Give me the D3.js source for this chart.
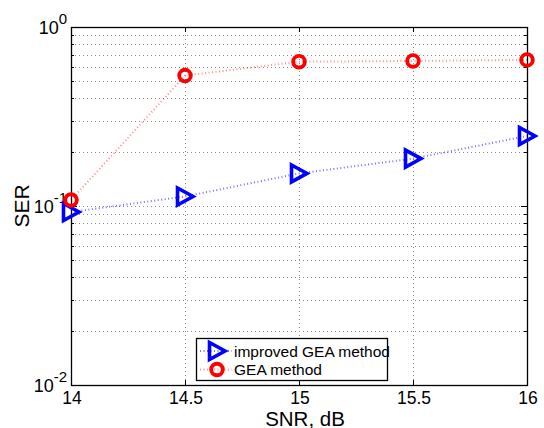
<!DOCTYPE html>
<html>
<head>
<meta charset="utf-8">
<script src="https://cdn.jsdelivr.net/npm/d3@7"></script>
<style>
  html, body { margin: 0; padding: 0; background: #fff; }
  svg { display: block; font-family: "Liberation Sans", Arial, Helvetica, sans-serif; }
</style>
</head>
<body>
<svg id="chart" width="544" height="428"></svg>
<script>
// SNR sweep (dB) and symbol error rates for the two detection methods
const snr = [14, 14.5, 15, 15.5, 16];
const serImproved = [0.0926, 0.113, 0.152, 0.184, 0.246];
const serGEA = [0.108, 0.535, 0.64, 0.646, 0.655];
const xTicks = [14, 14.5, 15, 15.5, 16];
const yDecades = [-2, -1, 0];
const seriesNames = ["improved GEA method", "GEA method"];

const svg = d3.select("#chart");
const plotL = 71, plotR = 527, plotT = 27, plotB = 385;

const x = d3.scaleLinear().domain([14, 16]).range([plotL, plotR]);
const y = d3.scaleLog().domain([1e-2, 1]).range([plotB, plotT]);

// minor log positions 2..9 in each decade
const minor = [];
for (let k = -2; k < 0; k++) for (let m = 2; m <= 9; m++) minor.push(m * Math.pow(10, k));

const grid = svg.append("g")
  .attr("stroke", "#8a8a8a").attr("stroke-width", 1)
  .attr("stroke-dasharray", "1,3").attr("fill", "none");

// horizontal grid (major + minor)
grid.selectAll("line.h")
  .data(minor.concat([0.1]))
  .join("line")
  .attr("x1", plotL).attr("x2", plotR)
  .attr("y1", d => Math.round(y(d)) + 0.5).attr("y2", d => Math.round(y(d)) + 0.5);

// vertical grid at inner x ticks
grid.selectAll("line.v")
  .data(xTicks.slice(1, -1))
  .join("line")
  .attr("y1", plotT).attr("y2", plotB)
  .attr("x1", d => Math.round(x(d)) + 0.5).attr("x2", d => Math.round(x(d)) + 0.5);

// inward ticks on all four sides
const ticks = svg.append("g").attr("stroke", "#000").attr("stroke-width", 1);
xTicks.slice(1, -1).forEach(v => {
  const px = Math.round(x(v)) + 0.5;
  ticks.append("line").attr("x1", px).attr("x2", px).attr("y1", plotB).attr("y2", plotB - 5);
  ticks.append("line").attr("x1", px).attr("x2", px).attr("y1", plotT).attr("y2", plotT + 5);
});
minor.forEach(v => {
  const py = Math.round(y(v)) + 0.5;
  ticks.append("line").attr("x1", plotL).attr("x2", plotL + 3).attr("y1", py).attr("y2", py);
  ticks.append("line").attr("x1", plotR).attr("x2", plotR - 3).attr("y1", py).attr("y2", py);
});
[0.1].forEach(v => {
  const py = Math.round(y(v)) + 0.5;
  ticks.append("line").attr("x1", plotL).attr("x2", plotL + 6).attr("y1", py).attr("y2", py);
  ticks.append("line").attr("x1", plotR).attr("x2", plotR - 6).attr("y1", py).attr("y2", py);
});

// axes box
svg.append("rect")
  .attr("x", plotL + 0.5).attr("y", plotT + 0.5)
  .attr("width", plotR - plotL).attr("height", plotB - plotT)
  .attr("fill", "none").attr("stroke", "#000").attr("stroke-width", 1.3);

// x tick labels
svg.append("g").selectAll("text")
  .data(xTicks)
  .join("text")
  .attr("x", d => x(d) + 1).attr("y", 403.5)
  .attr("text-anchor", "middle").attr("font-size", 17.5).attr("fill", "#000")
  .text(d => d);

// y tick labels as 10^k
const yl = svg.append("g").attr("fill", "#000");
yDecades.forEach(k => {
  const py = y(Math.pow(10, k)) + 7;
  const t = yl.append("text").attr("x", 67).attr("y", py).attr("text-anchor", "end").attr("font-size", 18);
  t.append("tspan").text("10");
  t.append("tspan").attr("dy", -10).attr("font-size", 15).text(k === 0 ? "0" : "-" + Math.abs(k));
});

// axis titles
svg.append("text")
  .attr("x", 305).attr("y", 425.5)
  .attr("text-anchor", "middle").attr("font-size", 20.5).attr("fill", "#000")
  .text("SNR, dB");
svg.append("text")
  .attr("transform", `translate(28.5,${(plotT + plotB) / 2}) rotate(-90)`)
  .attr("text-anchor", "middle").attr("font-size", 21).attr("fill", "#000")
  .text("SER");

// marker shapes
const triPath = "M-7.5,-8.5L-7.5,8.5L8,0Z";
function drawTri(g, cx, cy) {
  g.append("path").attr("d", triPath)
    .attr("transform", `translate(${cx},${cy})`)
    .attr("fill", "none").attr("stroke", "#0000ff").attr("stroke-width", 3.6)
    .attr("stroke-linejoin", "miter");
}
function drawCirc(g, cx, cy) {
  g.append("circle").attr("cx", cx).attr("cy", cy).attr("r", 5.8)
    .attr("fill", "none").attr("stroke", "#ff0000").attr("stroke-width", 3.9);
}

const line = d3.line().x(d => x(d[0])).y(d => y(d[1]));
const series = [
  { vals: serImproved, color: "#0000ff", opacity: 0.55, marker: drawTri },
  { vals: serGEA, color: "#ff0000", opacity: 0.45, marker: drawCirc }
];

series.forEach(s => {
  const pts = snr.map((v, i) => [v, s.vals[i]]);
  const g = svg.append("g");
  g.append("path").datum(pts).attr("d", line)
    .attr("fill", "none").attr("stroke", s.color).attr("stroke-opacity", s.opacity)
    .attr("stroke-width", 2).attr("stroke-dasharray", "1,2.5");
  pts.forEach(p => s.marker(g, x(p[0]), y(p[1])));
});

// legend
const lg = svg.append("g");
lg.append("rect").attr("x", 196.5).attr("y", 338.5).attr("width", 191).attr("height", 42)
  .attr("fill", "#fff").attr("stroke", "#000").attr("stroke-width", 1.3);
const rows = [351, 369.5];
series.forEach((s, i) => {
  const ry = rows[i];
  lg.append("line").attr("x1", 200).attr("x2", 232).attr("y1", ry).attr("y2", ry)
    .attr("stroke", s.color).attr("stroke-opacity", s.opacity)
    .attr("stroke-width", 2).attr("stroke-dasharray", "1,2.5");
  s.marker(lg, 217, ry);
  lg.append("text").attr("x", 234).attr("y", ry + 5.5)
    .attr("font-size", 15.5).attr("fill", "#000").text(seriesNames[i]);
});
</script>
</body>
</html>
